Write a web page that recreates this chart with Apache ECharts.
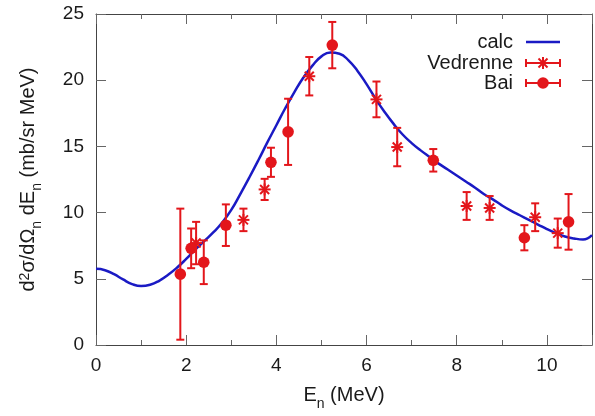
<!DOCTYPE html>
<html><head><meta charset="utf-8">
<script src="https://cdn.jsdelivr.net/npm/echarts@6/dist/echarts.min.js"></script>
<style>html,body{margin:0;padding:0;background:#fff}#c{width:595px;height:416px}</style>
</head><body><div id="c"></div>
<script>
// calc curve
const calcE = [0.0,0.2,0.4,0.6,0.8,1.0,1.2,1.4,1.6,1.8,2.0,2.2,2.4,2.6,2.8,3.0,3.2,3.4,3.6,3.8,4.0,4.2,4.4,4.6,4.8,5.0,5.2,5.4,5.6,5.8,6.0,6.2,6.4,6.6,6.8,7.0,7.2,7.4,7.6,7.8,8.0,8.2,8.4,8.6,8.8,9.0,9.2,9.4,9.6,9.8,10.0,10.2,10.4,10.6,10.8,11.0];
const calcY = [5.75,5.65,5.35,4.95,4.6,4.45,4.55,4.85,5.3,5.85,6.5,7.2,7.85,8.5,9.25,10.2,11.4,12.65,13.95,15.3,16.6,17.9,19.1,20.2,21.1,21.8,22.1,22.0,21.5,20.7,19.7,18.6,17.6,16.7,15.9,15.25,14.7,14.2,13.7,13.25,12.8,12.35,11.9,11.4,11.0,10.55,10.15,9.8,9.45,9.1,8.75,8.45,8.2,8.05,7.97,8.3];
// Vedrenne
const vedE = [2.22,3.27,3.74,4.73,6.22,6.68,8.22,8.73,9.74,10.24];
const vedY = [7.7,9.45,11.75,20.3,18.55,14.95,10.5,10.35,9.65,8.45];
const vedErr = [1.6,0.85,0.8,1.45,1.35,1.45,1.05,0.9,1.05,1.1];
// Bai
const baiE = [1.87,2.11,2.39,2.88,3.88,4.26,5.24,7.48,9.50,10.48];
const baiY = [5.35,7.3,6.25,9.05,13.8,16.1,22.65,13.95,8.1,9.3];
const baiErr = [4.95,1.5,1.65,1.57,1.1,2.5,1.75,0.85,0.95,2.1];
const xTicks = [0,2,4,6,8,10];
const yTicks = [0,5,10,15,20,25];

const RED = '#e3161b', BLUE = '#1a1ac4', FONT = 'Liberation Sans', FS = 19, NFS = 20;

function errGroup(c, top, bot, marker) {
  const st = {stroke: RED, lineWidth: 2, fill: 'none'};
  const cap = 4;
  const ch = [
    {type:'line', shape:{x1:c[0],y1:top[1],x2:c[0],y2:bot[1]}, style:st},
    {type:'line', shape:{x1:c[0]-cap,y1:top[1],x2:c[0]+cap,y2:top[1]}, style:st},
    {type:'line', shape:{x1:c[0]-cap,y1:bot[1],x2:c[0]+cap,y2:bot[1]}, style:st}
  ];
  return ch.concat(marker(c[0], c[1]));
}
function starMarker(x, y) {
  const r = 6, d = 4.5, st = {stroke: RED, lineWidth: 2};
  return [
    {type:'line', shape:{x1:x,y1:y-r,x2:x,y2:y+r}, style:st},
    {type:'line', shape:{x1:x-r,y1:y,x2:x+r,y2:y}, style:st},
    {type:'line', shape:{x1:x-d,y1:y-d,x2:x+d,y2:y+d}, style:st},
    {type:'line', shape:{x1:x-d,y1:y+d,x2:x+d,y2:y-d}, style:st}
  ];
}
function dotMarker(x, y) {
  return [{type:'circle', shape:{cx:x,cy:y,r:5.8}, style:{fill: RED}}];
}
function mkRender(marker) {
  return function(params, api) {
    const x = api.value(0), y = api.value(1), e = api.value(2);
    return {type:'group', children: errGroup(api.coord([x,y]), api.coord([x,y+e]), api.coord([x,y-e]), marker)};
  };
}

const chart = echarts.init(document.getElementById('c'), null, {renderer:'canvas'});
const axCommon = {
  axisLine:{show:true, onZero:false, lineStyle:{color:'#444', width:1}},
  axisTick:{show:true, inside:true, length:10, lineStyle:{color:'#666', width:1}},
  splitLine:{show:false}
};
const lgX = 513, lgL1 = 526, lgL2 = 560, rows = [42, 63, 83];
const lgText = ['calc','Vedrenne','Bai'];
const graphics = [];
lgText.forEach((t, i) => {
  graphics.push({type:'text', x: lgX, y: rows[i], style:{text:t, font: NFS+'px '+FONT, fill:'#1a1a1a', textAlign:'right', textVerticalAlign:'middle'}});
});
graphics.push({type:'line', shape:{x1:lgL1,y1:rows[0],x2:lgL2,y2:rows[0]}, style:{stroke:BLUE, lineWidth:2.5}});
[1,2].forEach(i => {
  const y = rows[i], st = {stroke:RED, lineWidth:2};
  graphics.push({type:'line', shape:{x1:lgL1,y1:y,x2:lgL2,y2:y}, style:st});
  graphics.push({type:'line', shape:{x1:lgL1,y1:y-4,x2:lgL1,y2:y+4}, style:st});
  graphics.push({type:'line', shape:{x1:lgL2,y1:y-4,x2:lgL2,y2:y+4}, style:st});
  const mk = i === 1 ? starMarker((lgL1+lgL2)/2, y) : dotMarker((lgL1+lgL2)/2, y);
  mk.forEach(m => graphics.push(m));
});

chart.setOption({
  animation:false,
  backgroundColor:'#fff',
  textStyle:{fontFamily:FONT},
  grid:{left:96, right:0, top:14, bottom:68, containLabel:false},
  xAxis:[
    Object.assign({}, axCommon, {type:'value', min:0, max:11, interval:2, position:'bottom',
      minorTick:{show:true, splitNumber:2, length:5, lineStyle:{color:'#666'}},
      axisLabel:{show:true, fontSize:FS, color:'#1a1a1a', margin:11, fontFamily:FONT,
        formatter: v => xTicks.indexOf(v) >= 0 ? String(v) : ''},
      name:'{a|E}{sub|n}{a| (MeV)}', nameLocation:'middle', nameGap:40,
      nameTextStyle:{rich:{
        a:{fontSize:NFS, fontFamily:FONT, color:'#1a1a1a', lineHeight:22, verticalAlign:'top'},
        sub:{fontSize:14, fontFamily:FONT, color:'#1a1a1a', lineHeight:14, padding:[12,0,0,0], verticalAlign:'top'}}}
    }),
    Object.assign({}, axCommon, {type:'value', min:0, max:11, interval:2, position:'top',
      minorTick:{show:true, splitNumber:2, length:5, lineStyle:{color:'#666'}},
      axisLabel:{show:false}})
  ],
  yAxis:[
    Object.assign({}, axCommon, {type:'value', min:0, max:25, interval:5, position:'left',
      axisLabel:{show:true, fontSize:FS, color:'#1a1a1a', margin:12, fontFamily:FONT,
        formatter: v => yTicks.indexOf(v) >= 0 ? String(v) : ''},
      name:'{a|d}{sup|2}{a|σ/dΩ}{sub|n}{a| dE}{sub|n}{a| (mb/sr MeV)}', nameLocation:'middle', nameGap:56, nameRotate:90,
      nameTextStyle:{rich:{
        a:{fontSize:NFS, fontFamily:FONT, color:'#1a1a1a', lineHeight:22, verticalAlign:'top'},
        sup:{fontSize:14, fontFamily:FONT, color:'#1a1a1a', lineHeight:14, verticalAlign:'top'},
        sub:{fontSize:14, fontFamily:FONT, color:'#1a1a1a', lineHeight:14, padding:[12,0,0,0], verticalAlign:'top'}}}
    }),
    Object.assign({}, axCommon, {type:'value', min:0, max:25, interval:5, position:'right', axisLabel:{show:false}})
  ],
  series:[
    {name:'calc', type:'line', data: calcE.map((e,i)=>[e, calcY[i]]), smooth:0.5, showSymbol:false,
      lineStyle:{color:BLUE, width:2.5}, itemStyle:{color:BLUE}, z:2},
    {name:'Vedrenne', type:'custom', renderItem: mkRender(starMarker),
      data: vedE.map((e,i)=>[e, vedY[i], vedErr[i]]), encode:{x:0,y:1}, z:3},
    {name:'Bai', type:'custom', renderItem: mkRender(dotMarker),
      data: baiE.map((e,i)=>[e, baiY[i], baiErr[i]]), encode:{x:0,y:1}, z:3}
  ],
  graphic: graphics
});
</script></body></html>
